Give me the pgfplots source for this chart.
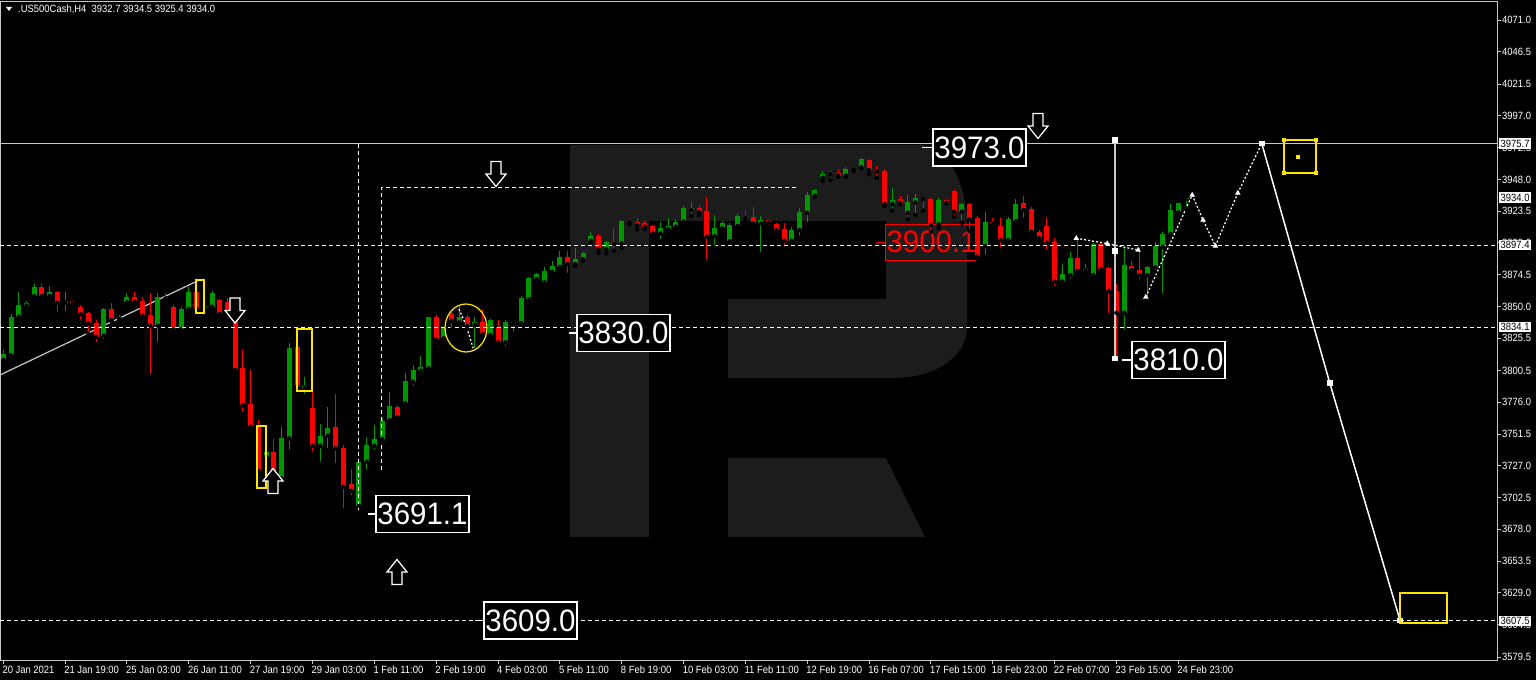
\documentclass[border=0pt]{standalone}
\usepackage{fontspec}
\setmainfont{Liberation Sans}
\newfontfamily\tickfont[FakeStretch=0.9]{Liberation Sans}
\newfontfamily\bigfont[FakeStretch=0.95]{Liberation Sans}
\usepackage{pgfplots}
\usepackage{pgfplotstable}
\pgfplotsset{compat=1.18}

\definecolor{bull}{RGB}{0,150,0}
\definecolor{bear}{RGB}{255,0,0}
\definecolor{wmark}{RGB}{28,28,28}
\definecolor{frame}{RGB}{200,200,200}
\definecolor{ylw}{RGB}{255,230,0}

% H4 candles, x = bar index
\pgfplotstableread{
x o h l c
0 3808.7 3816.4 3807.1 3813.3
1 3812.5 3844.1 3811.7 3842.1
2 3842.1 3860.9 3841.1 3851.1
3 3850.6 3854.4 3848.5 3852.9
4 3858.0 3867.3 3857.3 3864.8
6 3858.0 3865.8 3857.3 3860.9
8 3853.0 3861.4 3844.7 3854.2
13 3827.4 3848.8 3823.3 3848.0
15 3840.3 3843.4 3838.7 3842.1
16 3853.2 3860.6 3852.6 3857.0
20 3835.1 3860.1 3821.0 3857.0
21 3856.1 3860.4 3853.4 3856.9
23 3832.3 3849.6 3830.2 3848.0
24 3848.0 3864.8 3847.2 3861.4
26 3849.2 3851.9 3848.0 3850.3
27 3849.8 3862.1 3849.2 3860.1
34 3734.1 3739.2 3733.0 3737.9
36 3717.4 3756.9 3714.0 3748.2
37 3748.2 3821.5 3737.9 3817.7
39 3787.4 3795.5 3780.9 3788.6
41 3742.5 3759.0 3729.0 3750.0
42 3750.3 3772.6 3739.2 3755.9
46 3696.0 3731.5 3691.1 3730.2
47 3730.2 3749.5 3722.5 3743.1
48 3742.5 3758.5 3737.9 3747.5
49 3747.5 3763.9 3746.9 3761.8
50 3762.4 3784.2 3761.6 3773.2
52 3775.2 3798.8 3774.7 3792.4
53 3791.9 3804.8 3787.6 3800.9
54 3800.4 3811.7 3798.8 3803.0
55 3802.3 3842.1 3801.5 3841.6
57 3825.4 3834.1 3821.5 3833.1
59 3837.7 3850.3 3837.2 3841.6
61 3835.9 3841.6 3816.4 3837.7
63 3827.9 3840.3 3827.2 3839.5
65 3822.3 3839.5 3817.7 3837.7
66 3837.0 3838.0 3828.7 3837.7
67 3837.0 3858.0 3836.4 3856.7
68 3855.7 3872.7 3855.0 3871.7
69 3871.2 3876.0 3869.8 3875.0
70 3868.6 3880.2 3866.0 3877.3
71 3876.8 3885.0 3876.2 3881.2
72 3880.6 3892.8 3877.5 3888.4
74 3882.7 3894.8 3881.2 3886.8
75 3886.6 3892.2 3885.3 3891.0
76 3900.7 3907.2 3899.2 3904.3
78 3894.3 3900.5 3891.0 3899.9
80 3898.7 3916.7 3895.6 3916.1
81 3914.9 3917.2 3913.6 3915.7
85 3906.4 3914.9 3900.5 3910.3
86 3909.7 3918.4 3907.6 3912.3
87 3911.5 3917.2 3910.9 3915.4
88 3915.4 3927.5 3914.8 3925.7
89 3924.4 3930.3 3919.8 3925.7
92 3904.3 3920.5 3895.6 3910.7
93 3910.3 3916.1 3909.7 3914.6
94 3900.5 3914.1 3899.9 3912.8
95 3912.0 3921.3 3909.5 3919.8
98 3914.1 3919.8 3890.4 3916.7
102 3900.7 3911.5 3899.5 3908.9
103 3908.9 3925.9 3903.0 3923.1
104 3922.3 3938.5 3913.6 3935.9
105 3935.4 3940.6 3934.6 3939.8
106 3949.3 3954.7 3947.0 3951.9
107 3951.9 3954.7 3947.5 3952.7
109 3950.9 3957.3 3950.1 3955.8
110 3955.6 3956.6 3954.5 3956.4
111 3957.3 3964.7 3956.6 3963.7
115 3929.0 3941.1 3923.9 3932.1
117 3922.3 3935.9 3917.2 3930.8
118 3930.3 3936.5 3920.5 3933.9
121 3913.6 3933.9 3910.7 3932.1
124 3923.1 3929.8 3914.6 3928.8
127 3896.6 3923.1 3888.4 3915.4
130 3901.2 3918.8 3900.5 3917.4
131 3915.9 3932.6 3914.1 3928.8
137 3869.1 3882.7 3867.8 3875.0
138 3874.2 3892.2 3869.8 3887.1
140 3877.5 3882.7 3876.0 3878.6
141 3874.2 3898.7 3873.5 3898.2
145 3845.1 3896.1 3830.5 3881.9
148 3874.2 3881.2 3856.3 3880.2
149 3880.2 3899.9 3876.8 3896.6
150 3896.1 3907.6 3858.8 3905.9
151 3905.9 3929.0 3905.1 3924.4
152 3922.6 3930.0 3922.1 3929.6
153 3932.7 3934.5 3925.4 3934.0
}\up

\pgfplotstableread{
x o h l c
5 3864.8 3867.3 3855.5 3858.0
7 3860.9 3861.9 3844.1 3852.9
9 3854.2 3855.0 3851.9 3852.9
10 3849.8 3851.1 3838.2 3844.1
11 3844.7 3845.9 3828.7 3837.0
12 3837.4 3839.5 3821.0 3826.6
14 3848.0 3852.9 3838.7 3839.5
17 3857.0 3860.9 3851.9 3853.6
18 3854.2 3857.0 3839.5 3842.8
19 3843.4 3860.1 3796.3 3835.1
22 3849.8 3851.1 3829.7 3832.3
25 3861.4 3870.4 3844.9 3848.0
28 3855.0 3855.7 3842.6 3844.1
29 3853.4 3856.5 3844.1 3845.7
30 3847.2 3855.0 3799.4 3800.9
31 3802.3 3816.4 3767.0 3773.9
32 3774.7 3800.9 3754.6 3757.2
33 3757.2 3762.4 3722.2 3723.2
35 3737.9 3747.5 3714.5 3716.1
38 3818.4 3820.2 3787.0 3788.1
40 3771.4 3785.5 3736.7 3742.5
43 3756.7 3782.2 3727.6 3740.5
44 3740.8 3743.1 3692.9 3710.9
45 3713.0 3724.5 3702.7 3707.8
51 3772.6 3773.9 3763.9 3764.4
56 3841.6 3843.4 3822.8 3824.6
58 3843.9 3845.5 3832.3 3839.0
60 3841.6 3843.4 3833.1 3835.1
62 3837.7 3847.2 3827.4 3828.7
64 3833.9 3839.5 3819.4 3822.3
73 3888.4 3892.8 3874.2 3882.7
77 3904.3 3905.9 3891.4 3894.3
79 3899.9 3910.3 3893.0 3898.2
82 3915.4 3918.0 3909.5 3912.8
83 3914.1 3916.1 3909.7 3911.5
84 3912.3 3912.8 3903.3 3906.4
90 3925.7 3928.3 3920.5 3922.6
91 3923.6 3934.2 3884.5 3903.8
96 3920.0 3923.6 3916.1 3918.4
97 3918.8 3926.5 3910.3 3914.1
99 3916.7 3917.4 3911.5 3914.9
100 3913.6 3914.6 3906.9 3908.9
101 3909.5 3914.1 3894.8 3900.7
108 3952.7 3955.8 3950.1 3950.9
112 3962.9 3963.7 3951.9 3955.3
113 3955.1 3958.6 3949.3 3954.3
114 3954.7 3955.8 3927.5 3929.0
116 3932.9 3935.2 3928.8 3930.0
119 3933.6 3934.2 3923.9 3932.9
120 3932.9 3933.4 3907.6 3912.8
122 3932.1 3932.9 3929.4 3930.0
123 3939.0 3939.8 3919.2 3923.1
125 3928.8 3929.8 3908.2 3917.4
126 3918.0 3919.8 3884.5 3888.4
128 3915.4 3918.0 3912.8 3914.1
129 3912.0 3918.0 3894.1 3901.2
132 3929.6 3935.2 3916.7 3924.4
133 3925.2 3926.9 3906.4 3907.6
134 3907.6 3908.9 3901.2 3902.6
135 3912.3 3918.0 3892.2 3899.2
136 3899.5 3902.6 3864.0 3869.1
139 3887.1 3902.6 3876.0 3877.5
142 3898.2 3899.9 3877.5 3878.6
143 3879.4 3880.4 3843.4 3862.1
144 3862.1 3867.3 3810.0 3845.1
146 3881.2 3885.3 3877.5 3878.1
147 3878.1 3894.8 3869.6 3874.2
}\dn

\tikzset{
  lvl/.style={white, line width=1pt, dash pattern=on 4pt off 3pt},
  dots/.style={white, line width=1.2pt, dash pattern=on 2pt off 2pt},
  tips/.style={mark=triangle*, mark size=2pt, mark options={solid, fill=white, draw=white}},
  biglab/.style={draw=white, line width=1.5pt, fill=black, text=white, minimum width=93pt,
    minimum height=37pt, inner sep=0pt, font=\bigfont\fontsize{31}{31}\selectfont},
  pbox/.style={fill=white, text=black, anchor=west, inner xsep=1.5pt, inner ysep=1.5pt,
    font=\tickfont\fontsize{10.5}{12}\selectfont},
}
\newcommand\dnarr[2]{\draw[white, fill=black, line width=1.2pt, shift={(#1,#2)}]
  (-5,-12.5) -- (5,-12.5) -- (5,0) -- (10,0) -- (0,12.5) -- (-10,0) -- (-5,0) -- cycle;}
\newcommand\uparr[2]{\draw[white, fill=black, line width=1.2pt, shift={(#1,#2)}]
  (-5,12.5) -- (5,12.5) -- (5,0) -- (10,0) -- (0,-12.5) -- (-10,0) -- (-5,0) -- cycle;}

\begin{document}
\begin{tikzpicture}
\fill[black] (0,0) rectangle (1536pt,680pt);

% watermark logo, pixel coordinates
\begin{scope}[shift={(0,680pt)}, x=1pt, y=-1pt]
\fill[wmark] (570,145) -- (923,145) .. controls (950,145) and (967,190) .. (967,223)
  -- (967,327) .. controls (967,357) and (935,378) .. (893,378) -- (728,378) -- (728,299)
  -- (886,299) -- (886,221) -- (649,221) -- (649,537) -- (570,537) -- cycle;
\fill[wmark] (728,458) -- (886,458) -- (925,537) -- (728,537) -- cycle;
\end{scope}

\begin{axis}[
  at={(0pt,20pt)}, anchor=south west,
  scale only axis, width=1497pt, height=658pt,
  xmin=-0.427, xmax=193.23, ymin=3577.2, ymax=4084.9,
  clip=false,
  axis line style={frame, line width=1pt},
  tick style={frame, line width=1pt},
  tick align=outside, major tick length=4pt,
  xtick pos=bottom, ytick pos=right, yticklabel pos=right,
  xtick={0,8,...,152},
  xticklabels={20 Jan 2021, 21 Jan 19:00, 25 Jan 03:00, 26 Jan 11:00, 27 Jan 19:00,
    29 Jan 03:00, 1 Feb 11:00, 2 Feb 19:00, 4 Feb 03:00, 5 Feb 11:00, 8 Feb 19:00,
    10 Feb 03:00, 11 Feb 11:00, 12 Feb 19:00, 16 Feb 07:00, 17 Feb 15:00, 18 Feb 23:00,
    22 Feb 07:00, 23 Feb 15:00, 24 Feb 23:00},
  ytick={4071.0,4046.5,4021.5,3997.0,3972.5,3948.0,3923.5,3899.0,3874.5,3850.0,3825.5,
    3800.5,3776.0,3751.5,3727.0,3702.5,3678.0,3653.5,3629.0,3604.5,3579.5},
  yticklabels={4071.0,4046.5,4021.5,3997.0,3972.5,3948.0,3923.5,3899.0,3874.5,3850.0,3825.5,
    3800.5,3776.0,3751.5,3727.0,3702.5,3678.0,3653.5,3629.0,3604.5,3579.5},
  ticklabel style={font=\tickfont\fontsize{10.5}{12}\selectfont, text=white},
  xticklabel style={anchor=north west, inner sep=0pt, xshift=-1pt, yshift=-2pt},
  yticklabel style={anchor=west, inner sep=0pt, xshift=1pt},
]

% red label behind the candles
\node[draw=bear, line width=1.5pt, text=bear, minimum width=92pt, minimum height=36pt,
  inner sep=0pt, font=\bigfont\fontsize{31}{31}\selectfont] (rl) at (axis cs:120.08,3899.5) {3900.1};
\draw[bear, line width=1.5pt] (rl.west) -- ++(-9pt,0pt);

% trend line
\addplot[frame, line width=1.2pt] coordinates {(-0.427,3797.1) (25.1,3869.6)};

% wicks
\addplot[only marks, mark=none, error bars/.cd, y dir=plus, y explicit, error mark=none,
  error bar style={draw=bull, line width=1pt}]
  table[x=x, y=l, y error plus expr={\thisrow{h}-\thisrow{l}}] {\up};
\addplot[only marks, mark=none, error bars/.cd, y dir=plus, y explicit, error mark=none,
  error bar style={draw=bear, line width=1pt}]
  table[x=x, y=l, y error plus expr={\thisrow{h}-\thisrow{l}}] {\dn};
% bodies
\addplot[only marks, mark=none, error bars/.cd, y dir=plus, y explicit, error mark=none,
  error bar style={draw=bull, line width=5pt}]
  table[x=x, y=o, y error plus expr={\thisrow{c}-\thisrow{o}}] {\up};
\addplot[only marks, mark=none, error bars/.cd, y dir=plus, y explicit, error mark=none,
  error bar style={draw=bear, line width=5pt}]
  table[x=x, y=c, y error plus expr={\thisrow{o}-\thisrow{c}}] {\dn};

% price levels
\draw[frame, line width=1pt] (axis cs:-0.427,3975.7) -- (axis cs:193.23,3975.7);
\draw[lvl] (axis cs:-0.427,3897.4) -- (axis cs:193.23,3897.4);
\draw[lvl] (axis cs:-0.427,3834.1) -- (axis cs:193.23,3834.1);
\draw[lvl] (axis cs:-0.427,3607.5) -- (axis cs:193.23,3607.5);
\draw[lvl] (axis cs:46,3975.7) -- (axis cs:46,3690.6);
\draw[lvl] (axis cs:48.9,3723.8) -- (axis cs:48.9,3941.4) -- (axis cs:102.6,3941.4);

% forecast paths
\addplot[dots] coordinates {(58.95,3848.0) (59.86,3835.6) (60.9,3815.6)};
\addplot[dots, tips] coordinates {(138.8,3902.6) (142.8,3898.5) (146.8,3893.5)};
\addplot[dots, tips] coordinates {(147.8,3857.3) (153.8,3936.0) (155.2,3916.7) (156.8,3896.6)
  (159.7,3937.5)};
\addplot[dots] coordinates {(159.7,3937.5) (162.8,3975.7)};
\addplot[frame, line width=1.5pt, mark=square*, mark size=2pt, mark options={fill=white, draw=white}]
  coordinates {(143.8,3978.4) (143.8,3892.8) (143.8,3810.0)};
\addplot[white, line width=1.5pt, mark=square*, mark size=2pt, mark options={fill=white}]
  coordinates {(162.8,3975.7) (171.6,3790.9) (180.7,3607.5)};

\coordinate (p1) at (axis cs:193.23,3975.7);
\coordinate (p2) at (axis cs:193.23,3934.0);
\coordinate (p3) at (axis cs:193.23,3897.4);
\coordinate (p4) at (axis cs:193.23,3834.1);
\coordinate (p5) at (axis cs:193.23,3607.5);
\end{axis}

% current-price boxes on the price scale
\node[pbox] at ([xshift=2pt]p1) {3975.7};
\node[pbox] at ([xshift=2pt]p2) {3934.0};
\node[pbox] at ([xshift=2pt]p3) {3897.4};
\node[pbox] at ([xshift=2pt]p4) {3834.1};
\node[pbox] at ([xshift=2pt]p5) {3607.5};

% drawn objects, pixel coordinates
\begin{scope}[shift={(0,680pt)}, x=1pt, y=-1pt]
\fill[white] (6,7) -- (12,7) -- (9,11) -- cycle;
\node[anchor=west, inner sep=0pt, text=white, font=\tickfont\fontsize{10.5}{12}\selectfont]
  at (18,9) {.US500Cash,H4\ \ 3932.7 3934.5 3925.4 3934.0};

\draw[ylw, line width=1.2pt] (196,280) rectangle (204,313);
\draw[ylw, line width=1.2pt] (257,426) rectangle (266,488);
\draw[ylw, line width=1.2pt] (297,329) rectangle (312,391);
\draw[ylw, line width=1.2pt] (466,328) ellipse [x radius=21, y radius=24];
\draw[ylw, line width=1.2pt] (1284,140) rectangle (1316,173);
\foreach \p in {(1284,140),(1316,140),(1284,173),(1316,173),(1298,157)}
  \fill[ylw] \p ++(-2,-2) rectangle ++(4,4);
\draw[ylw, line width=1.2pt] (1400,593) rectangle (1447,623);

\dnarr{235}{310.5}
\dnarr{496}{174}
\dnarr{1038}{126}
\uparr{273}{481}
\uparr{397}{572}

\node[biglab] (a) at (979.5,147.5) {3973.0};
\draw[white, line width=1.5pt] (a.west) -- ++(-10,0);
\node[biglab] (b) at (623.5,333) {3830.0};
\draw[white, line width=1.5pt] (b.west) -- ++(-7,0);
\node[biglab] (c) at (422.5,514) {3691.1};
\draw[white, line width=1.5pt] (c.west) -- ++(-7,0);
\node[biglab] (d) at (530.5,620.5) {3609.0};
\draw[white, line width=1.5pt] (d.west) -- ++(-8,0);
\node[biglab] (e) at (1178.5,360) {3810.0};
\draw[white, line width=1.5pt] (e.west) -- ++(-9,0);
\end{scope}

\pgfresetboundingbox
\useasboundingbox (0,0) rectangle (1536pt,680pt);
\end{tikzpicture}
\end{document}
